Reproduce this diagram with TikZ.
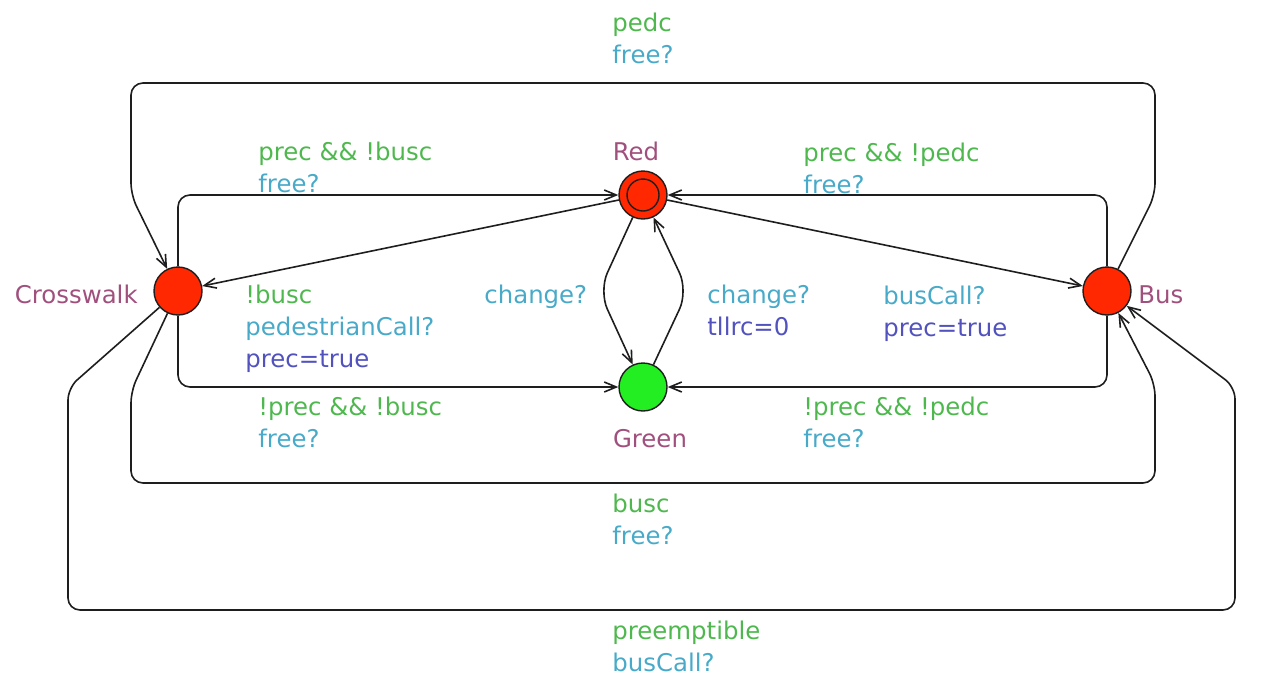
\documentclass[tikz,border=0pt]{standalone}
\usepackage{fontspec}
\setmainfont{DejaVu Sans}
\usetikzlibrary{arrows.meta}
\definecolor{locname}{RGB}{160,80,125}
\definecolor{guard}{RGB}{78,184,78}
\definecolor{sync}{RGB}{72,170,200}
\definecolor{upd}{RGB}{82,82,190}
\definecolor{nodered}{RGB}{255,40,0}
\definecolor{nodegreen}{RGB}{34,238,34}
\definecolor{ln}{RGB}{30,30,30}
\begin{document}
\begin{tikzpicture}[x=0.5pt,y=-0.5pt,
  loc/.style={circle,draw=ln,line width=0.7pt,minimum size=24pt,inner sep=0pt},
  edge/.style={draw=ln,line width=0.8pt,-{Straight Barb[length=6pt,width=5pt]},rounded corners=6pt},
  lbl/.style={anchor=base west,align=left,inner sep=0pt,font=\fontsize{12.2}{16}\selectfont},
  nm/.style={text=locname,inner sep=0pt,font=\fontsize{12.2}{16}\selectfont}]
\useasboundingbox (0,0) rectangle (1284,686);
% locations
\node[loc,fill=nodered] (Cw) at (178,291) {};
\node[loc,fill=nodered] (Red) at (643,195) {};
\draw[ln,line width=0.7pt] (Red.center) circle[radius=8pt];
\node[loc,fill=nodegreen] (Green) at (643,387) {};
\node[loc,fill=nodered] (Bus) at (1107,291) {};
% names
\node[nm,anchor=base east] (CwName) at (138,303) {Crosswalk};
\node[nm,anchor=base] (RedName) at (636,160) {Red};
\node[nm,anchor=base] (GreenName) at (650,447) {Green};
\node[nm,anchor=base west] (BusName) at (1138,303) {Bus};
% bend points
\coordinate (rgL) at (599,291);
\coordinate (rgR) at (688,291);
\coordinate (topR) at (1155,195);
\coordinate (topY) at (131,83);
\coordinate (topL) at (131,195);
\coordinate (midL) at (131,391);
\coordinate (midY) at (1155,483);
\coordinate (midR) at (1155,384);
\coordinate (outL) at (68,388);
\coordinate (outY) at (1235,610);
\coordinate (outR) at (1235,387);
% edges
\draw[edge] (Red) -- (Cw);
\draw[edge] (Cw.north) |- (Red.west);
\draw[edge] (Red) -- (Bus);
\draw[edge] (Bus.north) |- (Red.east);
\draw[edge] (Cw.south) |- (Green.west);
\draw[edge] (Bus.south) |- (Green.east);
\draw[edge,rounded corners=10pt] (Red) -- (rgL) -- (Green);
\draw[edge,rounded corners=10pt] (Green) -- (rgR) -- (Red);
\draw[edge] (Bus) -- (topR) |- (topY) -- (topL) -- (Cw);
\draw[edge] (Cw) -- (midL) |- (midY) -- (midR) -- (Bus);
\draw[edge] (Cw) -- (outL) |- (outY) -- (outR) -- (Bus);
% labels (anchor = baseline of last line)
\node[lbl] (l1) at (612,63) {\textcolor{guard}{pedc}\\\textcolor{sync}{free?}};
\node[lbl] (l2) at (258,192) {\textcolor{guard}{prec \&\& !busc}\\\textcolor{sync}{free?}};
\node[lbl] (l3) at (803,193) {\textcolor{guard}{prec \&\& !pedc}\\\textcolor{sync}{free?}};
\node[lbl] (l4) at (245,367) {\textcolor{guard}{!busc}\\\textcolor{sync}{pedestrianCall?}\\\textcolor{upd}{prec=true}};
\node[lbl] (l5) at (484,303) {\textcolor{sync}{change?}};
\node[lbl] (l6) at (707,335) {\textcolor{sync}{change?}\\\textcolor{upd}{tllrc=0}};
\node[lbl] (l7) at (883,336) {\textcolor{sync}{busCall?}\\\textcolor{upd}{prec=true}};
\node[lbl] (l8) at (258,447) {\textcolor{guard}{!prec \&\& !busc}\\\textcolor{sync}{free?}};
\node[lbl] (l9) at (803,447) {\textcolor{guard}{!prec \&\& !pedc}\\\textcolor{sync}{free?}};
\node[lbl] (l10) at (612,544) {\textcolor{guard}{busc}\\\textcolor{sync}{free?}};
\node[lbl] (l11) at (612,671) {\textcolor{guard}{preemptible}\\\textcolor{sync}{busCall?}};
\end{tikzpicture}
\end{document}
